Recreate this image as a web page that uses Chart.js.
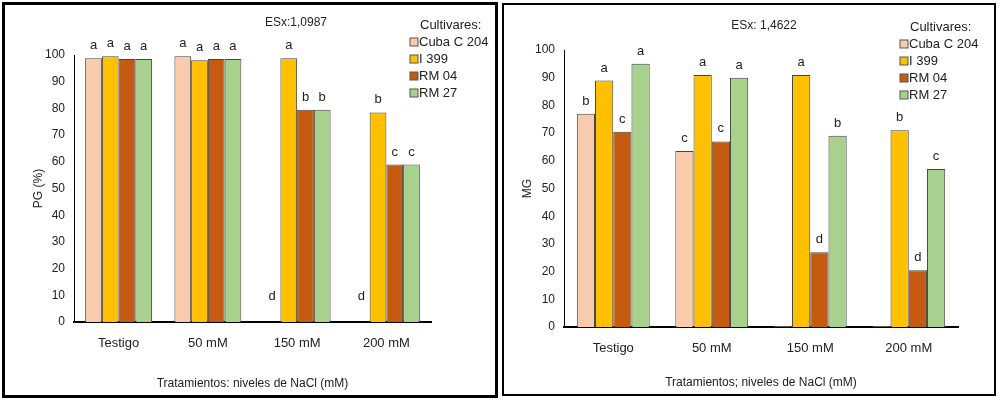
<!DOCTYPE html>
<html><head><meta charset="utf-8">
<script src="https://cdn.jsdelivr.net/npm/chart.js@4"></script>
<style>
body{margin:0;background:#fff;width:1000px;height:401px;position:relative;font-family:"Liberation Sans",Arial,sans-serif}
.box{position:absolute;box-sizing:border-box;border:3px solid #000;background:#fff}
#b1{left:2px;top:2px;width:496px;height:396px}
#b2{left:502px;top:3px;width:494px;height:393px;border-width:2px}
canvas{display:block}
</style></head><body>
<div class="box" id="b1"><canvas id="c1"></canvas></div>
<div class="box" id="b2"><canvas id="c2"></canvas></div>
<script>
// shared categories and cultivars
var categories = ["Testigo", "50 mM", "150 mM", "200 mM"];
var cultivars = ["Cuba C 204", "I 399", "RM 04", "RM 27"];
var colors = ["#F8CBAD", "#FFC000", "#C55A11", "#A9D18E"];
var yTicks = [0, 10, 20, 30, 40, 50, 60, 70, 80, 90, 100];

// PG (%) values
var pgCuba = [98.8, 99.5, 0, 0];
var pgI399 = [99.5, 98, 98.8, 78.5];
var pgRM04 = [98.5, 98.5, 79.5, 59];
var pgRM27 = [98.5, 98.5, 79.5, 59];
var pgLetters = [["a","a","d","d"], ["a","a","a","b"], ["a","a","b","c"], ["a","a","b","c"]];

// MG values
var mgCuba = [77, 63.5, 0.3, 0.3];
var mgI399 = [89, 91, 91, 71];
var mgRM04 = [70.5, 67, 27, 20.5];
var mgRM27 = [95, 90, 69, 57];
var mgLetters = [["b","c","",""], ["a","a","a","b"], ["c","c","d","d"], ["a","a","b","c"]];

var font = "Liberation Sans";

var letterPlugin = {
    id: "letters",
    afterDatasetsDraw: function(chart, args, opts) {
        var ctx = chart.ctx;
        ctx.save();
        ctx.fillStyle = "#222";
        ctx.font = "13px " + font;
        ctx.textAlign = "center";
        ctx.textBaseline = "bottom";
        chart.data.datasets.forEach(function(ds, i) {
            chart.getDatasetMeta(i).data.forEach(function(bar, j) {
                var t = opts.letters[i][j];
                if (!t) return;
                var y = Math.min(bar.y, chart.scales.y.getPixelForValue(opts.minLift || 0));
                ctx.fillText(t, bar.x, y - 6);
            });
        });
        // ESx note
        ctx.font = "12px " + font;
        ctx.fillText(opts.note, opts.noteX, opts.noteY);
        // legend
        ctx.textAlign = "left";
        ctx.textBaseline = "middle";
        ctx.font = "13px " + font;
        ctx.fillText("Cultivares:", opts.legX + 6, opts.legY);
        chart.data.datasets.forEach(function(ds, i) {
            var y = opts.legY + 17 * (i + 1);
            ctx.fillStyle = ds.backgroundColor;
            ctx.fillRect(opts.legX - 4, y - 4, 8, 8);
            ctx.strokeStyle = "#555";
            ctx.lineWidth = 1;
            ctx.strokeRect(opts.legX - 4, y - 4, 8, 8);
            ctx.fillStyle = "#222";
            ctx.fillText(ds.label, opts.legX + 5, y);
        });
        ctx.restore();
    }
};

function makeChart(id, series, letters, yTitle, xTitle, cfg) {
    return new Chart(document.getElementById(id), {
        type: "bar",
        data: {
            labels: categories,
            datasets: series.map(function(s, i) {
                return { label: cultivars[i], data: s, backgroundColor: colors[i], borderColor: "#444", borderWidth: 1 };
            })
        },
        options: {
            responsive: true,
            maintainAspectRatio: false,
            animation: false,
            layout: { padding: { left: cfg.padLeft, right: cfg.padRight, top: cfg.padTop, bottom: 0 } },
            plugins: {
                legend: { display: false },
                tooltip: { enabled: false },
                letters: { letters: letters, note: cfg.note, noteX: cfg.noteX, noteY: cfg.noteY, legX: cfg.legX, legY: cfg.legY, minLift: cfg.minLift }
            },
            datasets: { bar: { categoryPercentage: cfg.catPct, barPercentage: 1 } },
            scales: {
                x: {
                    grid: { display: false, drawTicks: false },
                    border: { color: "#000", width: 2 },
                    ticks: { color: "#222", font: { family: font, size: 13 }, padding: 14 },
                    title: { display: true, text: xTitle, color: "#222", font: { family: font, size: 12 }, padding: { top: 14 } },
                    afterFit: function(s) { s.height = cfg.xHeight; }
                },
                y: {
                    min: 0, max: 100,
                    afterBuildTicks: function(s) { s.ticks = yTicks.map(function(v) { return { value: v }; }); },
                    grid: { display: false, drawTicks: true, tickLength: 5, tickColor: "#000" },
                    border: { color: "#000", width: 1 },
                    ticks: { color: "#222", font: { family: font, size: 12 }, padding: 4 },
                    title: { display: true, text: yTitle, color: "#222", font: { family: font, size: 12 } },
                    afterFit: function(s) { s.width = cfg.yWidth; }
                }
            }
        },
        plugins: [letterPlugin]
    });
}

makeChart("c1", [pgCuba, pgI399, pgRM04, pgRM27], pgLetters, "PG (%)", "Tratamientos: niveles de NaCl (mM)",
    { padLeft: 22, padRight: 64, padTop: 50, yWidth: 47, xHeight: 73, catPct: 0.75,
      note: "ESx:1,0987", noteX: 291, noteY: 24, legX: 409, legY: 20, minLift: 5 });
makeChart("c2", [mgCuba, mgI399, mgRM04, mgRM27], mgLetters, "MG", "Tratamientos; niveles de NaCl (mM)",
    { padLeft: 12, padRight: 36, padTop: 45, yWidth: 48, xHeight: 67, catPct: 0.74,
      note: "ESx: 1,4622", noteX: 260, noteY: 27, legX: 400, legY: 22, minLift: 0 });
</script>
</body></html>
